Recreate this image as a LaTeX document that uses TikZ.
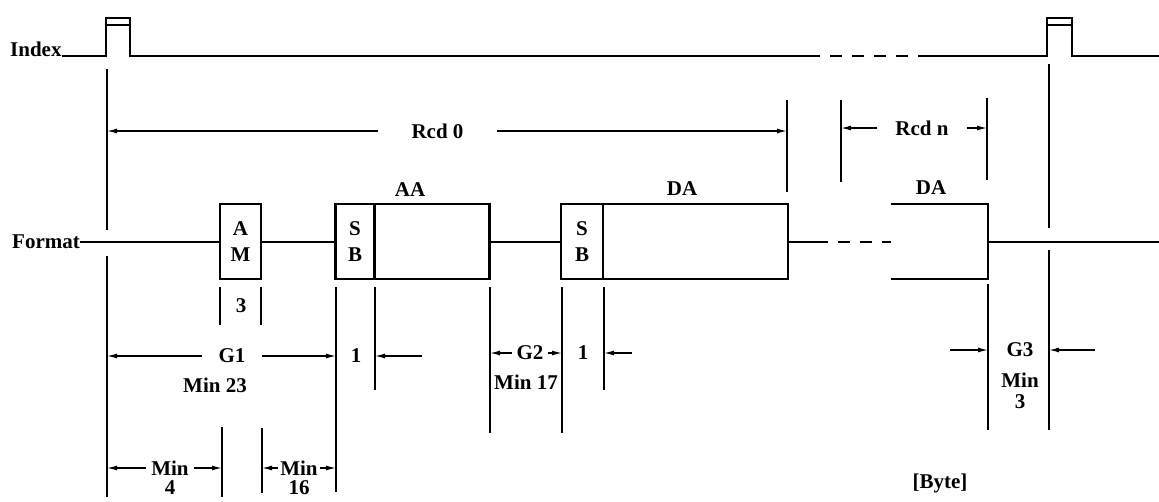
\documentclass[tikz,border=0pt]{standalone}
\usepackage{fontspec}
\setmainfont{Liberation Serif}
\usetikzlibrary{positioning,arrows.meta}

\begin{document}
\begin{tikzpicture}[x=1pt,y=-1pt,
  every node/.style={font=\bfseries\fontsize{21}{26}\selectfont, inner sep=0pt},
  field/.style={draw, line width=2.2pt, outer sep=0pt,
    minimum height=75pt, align=center},
  sig/.style={line width=2pt},
  gapline/.style={sig, dash pattern=on 12pt off 10pt, dash phase=12pt},
  ext/.style={line width=1.3pt},
  dim/.style={line width=1.3pt, -{Latex[length=10pt,width=5pt]}},
]
\useasboundingbox (0,0) rectangle (1159,501);

\node[anchor=base west] (index)  at (10,56)    {Index};
\node[anchor=west]      (format) at (12,241.5) {Format};

\node[field, minimum width=41pt]  (am)  at (240.5,241.5) {A\\M};
\node[field, minimum width=39pt]  (sb1) at (355,241.5)   {S\\B};
\node[field, minimum width=115pt, right=0pt of sb1] (aa) {};
\node[field, minimum width=42pt]  (sb2) at (582,241.5)   {S\\B};
\node[field, minimum width=185pt, right=0pt of sb2] (da) {};
\node[minimum width=97pt, minimum height=75pt] (dan) at (939.5,241.5) {};

\node (aalbl)  at (410,190) {AA};
\node (dalbl)  at (682,189) {DA};
\node (danlbl) at (931,188) {DA};

\coordinate (dash0) at (828,241.5);
\coordinate (fend)  at (1159,241.5);

\coordinate (e0)  at (107,497);
\coordinate (e1)  at (787,192);
\coordinate (e2)  at (841,182);
\coordinate (e3)  at (987,180);
\coordinate (e4)  at (1049,430);
\coordinate (e5)  at (220,325);
\coordinate (e6)  at (261,325);
\coordinate (e7)  at (222,497);
\coordinate (e8)  at (262,493);
\coordinate (e9)  at (336,492);
\coordinate (e10) at (375,390);
\coordinate (e11) at (490,433);
\coordinate (e12) at (562,433);
\coordinate (e13) at (604,390);
\coordinate (e14) at (988,430);

% index signal
\draw[sig] (index.base east) -- (106,56) -- (106,18) -- (130,18) -- (130,56) -- (820,56);
\draw[sig] (106,25) -- (130,25);
\draw[gapline] (820,56) -- (922,56);
\draw[sig] (922,56) -- (1047,56) -- (1047,18) -- (1072,18) -- (1072,56) -- (1159,56);
\draw[sig] (1047,25) -- (1072,25);

% format signal
\draw[sig] (format.east) -- (am.west);
\draw[sig] (am.east) -- (sb1.west);
\draw[sig] (aa.east) -- (sb2.west);
\draw[sig] (da.east) -- (dash0);
\draw[gapline] (dash0) -- (dan.west);
\draw[sig] (dan.north west) -- (dan.north east) -- (dan.south east) -- (dan.south west);
\draw[sig] (dan.east) -- (fend);

% extension lines
\draw[ext] (107,69) -- (107,230);
\draw[ext] (107,256) -- (e0);
\draw[ext] (787,100) -- (e1);
\draw[ext] (841,100) -- (e2);
\draw[ext] (987,98) -- (e3);
\draw[ext] (1049,64) -- (1049,228);
\draw[ext] (1049,250) -- (e4);
\draw[ext] (220,287) -- (e5);
\draw[ext] (261,287) -- (e6);
\draw[ext] (222,427) -- (e7);
\draw[ext] (262,428) -- (e8);
\draw[ext] (336,287) -- (e9);
\draw[ext] (375,287) -- (e10);
\draw[ext] (490,287) -- (e11);
\draw[ext] (562,287) -- (e12);
\draw[ext] (604,287) -- (e13);
\draw[ext] (988,284) -- (e14);

% dimensions
\node[inner xsep=33.5pt] (rcd0) at (437.5,131) {Rcd 0};
\draw[dim] (rcd0.west) -- (rcd0.west -| e0);
\draw[dim] (rcd0.east) -- (rcd0.east -| e1);

\node[inner xsep=18pt] (rcdn) at (922,128) {Rcd n};
\draw[dim] (rcdn.west) -- (rcdn.west -| e2);
\draw[dim] (rcdn.east) -- (rcdn.east -| e3);

\node (three) at (241,306) {3};

\node[inner xsep=16.5pt] (g1) at (232,356) {G1};
\node (min23) at (215,385) {Min 23};
\draw[dim] (g1.west) -- (g1.west -| e0);
\draw[dim] (g1.east) -- (g1.east -| e9);

\node (one1) at (356,356) {1};
\coordinate (t1) at (422,356);
\draw[dim] (t1) -- (t1 -| e10);

\node[inner xsep=4pt] (g2) at (530,353) {G2};
\node (min17) at (526,382) {Min 17};
\draw[dim] (g2.west) -- (g2.west -| e11);
\draw[dim] (g2.east) -- (g2.east -| e12);

\node (one2) at (583,353) {1};
\coordinate (t2) at (632,353);
\draw[dim] (t2) -- (t2 -| e13);

\node (g3)   at (1020,350) {G3};
\node (min3) at (1020,380) {Min};
\node (thr3) at (1020,402) {3};
\coordinate (t3) at (950,350);
\coordinate (t4) at (1095,350);
\draw[dim] (t3) -- (t3 -| e14);
\draw[dim] (t4) -- (t4 -| e4);

\node[inner xsep=5pt] (min4) at (170,468) {Min};
\node (four) at (170,488) {4};
\draw[dim] (min4.west) -- (min4.west -| e0);
\draw[dim] (min4.east) -- (min4.east -| e7);

\node[inner xsep=2pt] (min16) at (299,468) {Min};
\node (sixteen) at (299,488) {16};
\draw[dim] (min16.west) -- (min16.west -| e8);
\draw[dim] (min16.east) -- (min16.east -| e9);

\node (byte) at (940,483) {[Byte]};
\end{tikzpicture}
\end{document}
